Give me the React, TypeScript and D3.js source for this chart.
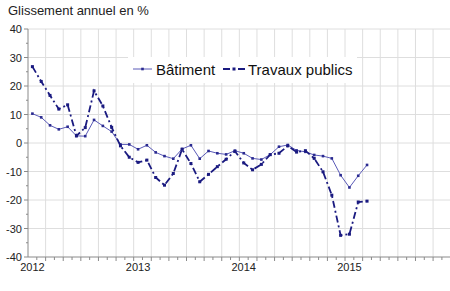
import React from "react";
import * as d3 from "d3";

const title = "Glissement annuel en %";
const yearLabels = ["2012", "2013", "2014", "2015"];
const yTicks = [-40, -30, -20, -10, 0, 10, 20, 30, 40];
const seriesNames = ["Bâtiment", "Travaux publics"];

// monthly values, Jan 2012 .. Mar 2015
const batiment = [
  10.3, 9.0, 6.2, 4.8, 5.7, 2.5, 2.4, 8.1, 6.0, 4.0, -0.5, -0.5,
  -2.2, -0.8, -3.3, -4.6, -5.5, -2.1, -0.8, -5.5, -2.8, -3.6, -4.0, -2.7,
  -3.6, -5.4, -5.8, -4.1, -1.3, -0.7, -2.6, -3.1, -4.2, -4.6, -5.4, -11.3,
  -15.6, -11.5, -7.7,
];
const travauxPublics = [
  26.8, 21.6, 16.7, 11.9, 13.4, 2.5, 5.4, 18.3, 13.0, 5.5, -1.0, -5.0,
  -6.8, -6.0, -12.1, -14.8, -10.7, -2.2, -7.2, -13.6, -11.0, -8.3, -5.7, -2.9,
  -7.0, -9.4, -7.5, -4.1, -3.6, -1.0, -3.2, -2.7, -5.4, -10.1, -18.3, -32.4,
  -32.0, -20.7, -20.4,
];

const W = 450;
const H = 291;
const FONT = "'Liberation Sans', Arial, sans-serif";

export default function App() {
  const x = d3.scaleLinear().domain([0, 48]).range([28, 450.7]);
  const y = d3.scaleLinear().domain([-40, 40]).range([257, 29]);
  const top = y(40);
  const bottom = y(-40);

  const line = d3
    .line<number>()
    .x((_, i) => x(i + 0.5))
    .y((d) => y(d));

  const gridMonths = d3.range(2, 48, 2);
  const tickMonths = d3.range(1, 48, 1);
  const minorY = d3.range(-35, 40, 10);

  const batColor = "#5a5ab8";
  const tpColor = "#1a1a80";

  return (
    <svg
      width={W}
      height={H}
      style={{ position: "absolute", left: 0, top: 0, background: "#fff" }}
      fontFamily={FONT}
    >
      <rect x={0} y={0} width={W} height={H} fill="#fff" />
      <text x={8} y={15} fontSize={13} fill="#222">
        {title}
      </text>
      {/* grid */}
      {yTicks.slice(1).map((t) => (
        <line key={"hg" + t} x1={x(0)} x2={W} y1={y(t)} y2={y(t)} stroke="#dedede" strokeWidth={1} />
      ))}
      {gridMonths.map((m) => (
        <line key={"vg" + m} x1={x(m)} x2={x(m)} y1={top} y2={bottom} stroke="#dedede" strokeWidth={1} />
      ))}
      {/* axes */}
      <line x1={x(0)} x2={x(0)} y1={top} y2={bottom} stroke="#8a8a8a" />
      <line x1={x(0)} x2={W} y1={bottom} y2={bottom} stroke="#8a8a8a" />
      {yTicks.map((t) => (
        <line key={"yt" + t} x1={x(0) - 4} x2={x(0)} y1={y(t)} y2={y(t)} stroke="#8a8a8a" />
      ))}
      {minorY.map((t) => (
        <line key={"ym" + t} x1={x(0) - 2} x2={x(0)} y1={y(t)} y2={y(t)} stroke="#8a8a8a" />
      ))}
      {yTicks.map((t) => (
        <text key={"yl" + t} x={22} y={y(t) + 4} fontSize={11} textAnchor="end" fill="#222">
          {t}
        </text>
      ))}
      {tickMonths.map((m) => (
        <line
          key={"xt" + m}
          x1={x(m)}
          x2={x(m)}
          y1={bottom}
          y2={bottom + (m % 2 === 0 ? 4 : 3)}
          stroke="#8a8a8a"
        />
      ))}
      {yearLabels.map((l, i) => (
        <text key={l} x={x(i * 12 + 0.5)} y={271} fontSize={11} textAnchor="middle" fill="#222">
          {l}
        </text>
      ))}
      {/* series */}
      <path d={line(batiment) || ""} fill="none" stroke={batColor} strokeWidth={1} />
      {batiment.map((v, i) => (
        <rect key={"bm" + i} x={x(i + 0.5) - 1.3} y={y(v) - 1.3} width={2.6} height={2.6} fill="#2a2a90" />
      ))}
      <path
        d={line(travauxPublics) || ""}
        fill="none"
        stroke={tpColor}
        strokeWidth={1.8}
        strokeDasharray="7 3 2 3"
      />
      {travauxPublics.map((v, i) => (
        <rect key={"tm" + i} x={x(i + 0.5) - 1.5} y={y(v) - 1.5} width={3} height={3} fill={tpColor} />
      ))}
      {/* legend */}
      <rect x={128} y={57} width={229} height={26} fill="#fff" />
      <line x1={133} x2={152} y1={69} y2={69} stroke={batColor} strokeWidth={1} />
      <rect x={141.2} y={67.7} width={2.6} height={2.6} fill="#2a2a90" />
      <text x={156} y={75} fontSize={15} fill="#111">
        {seriesNames[0]}
      </text>
      <line x1={223} x2={245} y1={69} y2={69} stroke={tpColor} strokeWidth={1.8} strokeDasharray="7 3 2 3" />
      <rect x={232.5} y={67.5} width={3} height={3} fill={tpColor} />
      <text x={248} y={75} fontSize={15} fill="#111">
        {seriesNames[1]}
      </text>
    </svg>
  );
}
